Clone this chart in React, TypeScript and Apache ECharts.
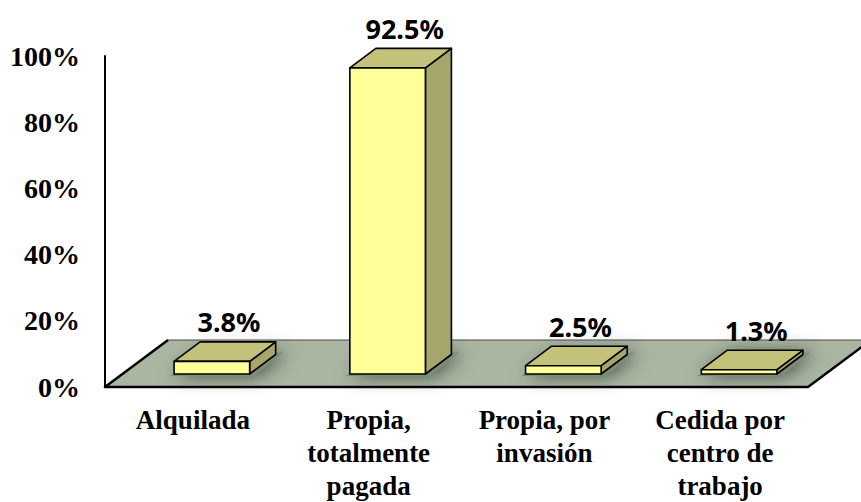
import React, { useEffect, useRef } from "react";
import * as echarts from "echarts";

const categories = [
  "Alquilada",
  "Propia,\ntotalmente\npagada",
  "Propia, por\ninvasión",
  "Cedida por\ncentro de\ntrabajo",
];
const values = [3.8, 92.5, 2.5, 1.3];
const yTicks = { min: 0, max: 100, interval: 20 };

export default function App() {
  const ref = useRef<HTMLDivElement>(null);
  useEffect(() => {
    if (!ref.current) return;
    const chart = echarts.init(ref.current, undefined, { renderer: "svg" });
    const floorDX = 63;
    const floorDY = -47;
    const option: any = {
      animation: false,
      backgroundColor: "#ffffff",
      grid: { left: 105, top: 56, width: 703, height: 335, containLabel: false },
      xAxis: {
        type: "category",
        data: categories,
        axisLine: { show: false },
        axisTick: { show: false },
        splitLine: { show: false },
        axisLabel: {
          interval: 0,
          margin: 16,
          color: "#000",
          fontFamily: "Liberation Serif",
          fontWeight: "bold",
          fontSize: 27,
          lineHeight: 33,
        },
      },
      yAxis: {
        type: "value",
        min: yTicks.min,
        max: yTicks.max,
        interval: yTicks.interval,
        axisLine: { show: true, lineStyle: { color: "#000", width: 2 } },
        axisTick: { show: false },
        splitLine: { show: false },
        axisLabel: {
          formatter: "{value}%",
          margin: 25,
          color: "#000",
          fontFamily: "Liberation Serif",
          fontWeight: "bold",
          fontSize: 28,
        },
      },
      series: [
        {
          type: "custom",
          clip: false,
          silent: true,
          data: [0],
          z: 1,
          renderItem: (params: any) => {
            const cs = params.coordSys;
            const x = cs.x, w = cs.width, yb = cs.y + cs.height;
            const FL = [x, yb];
            const FR = [x + w, yb];
            const BR = [x + w + floorDX, yb + floorDY];
            const BL = [x + floorDX, yb + floorDY];
            return {
              type: "group",
              children: [
                {
                  type: "polygon",
                  shape: { points: [FL, FR, BR, BL] },
                  style: { fill: "#AAB5A2", stroke: "none" },
                },
                {
                  type: "line",
                  shape: { x1: BL[0], y1: BL[1], x2: BR[0], y2: BR[1] },
                  style: { stroke: "#4a4a4a", lineWidth: 1 },
                },
                {
                  type: "polyline",
                  shape: { points: [BL, FL, FR, BR] },
                  style: { stroke: "#000", lineWidth: 2.5, fill: "none", lineJoin: "round" },
                },
              ],
            };
          },
        },
        {
          type: "custom",
          clip: false,
          z: 3,
          data: values.map((v, i) => [i, v]),
          renderItem: (params: any, api: any) => {
            const idx = api.value(0);
            const val = api.value(1);
            const base = api.coord([idx, 0]);
            const top = api.coord([idx, val]);
            const bw = api.size([1, 0])[0] * 0.43;
            const ox = 19, oy = -13;
            const dx = 26, dy = -19.5;
            const x0 = base[0] - bw / 2 + ox;
            const x1 = x0 + bw;
            const yb = base[1] + oy;
            const yt = top[1] + oy;
            const stroke = { stroke: "#000", lineWidth: 1.6, lineJoin: "round" };
            return {
              type: "group",
              children: [
                {
                  type: "polygon",
                  shape: {
                    points: [
                      [x0 - 4, yb + 2],
                      [x1 + 4, yb + 2],
                      [x1 + dx + 8, yb + dy - 2],
                      [x0 + dx, yb + dy - 2],
                    ],
                  },
                  style: {
                    fill: "#7f8a78",
                    shadowBlur: 18,
                    shadowColor: "rgba(50,60,45,0.85)",
                    shadowOffsetX: 4,
                  },
                },
                {
                  type: "polygon",
                  shape: {
                    points: [
                      [x1, yt],
                      [x1 + dx, yt + dy],
                      [x1 + dx, yb + dy],
                      [x1, yb],
                    ],
                  },
                  style: { fill: "#A6A66A", ...stroke },
                },
                {
                  type: "polygon",
                  shape: {
                    points: [
                      [x0, yt],
                      [x1, yt],
                      [x1 + dx, yt + dy],
                      [x0 + dx, yt + dy],
                    ],
                  },
                  style: { fill: "#C4C27A", ...stroke },
                },
                {
                  type: "rect",
                  shape: { x: x0, y: yt, width: bw, height: yb - yt },
                  style: { fill: "#FFFF99", ...stroke },
                },
                {
                  type: "text",
                  style: {
                    text: val.toFixed(1) + "%",
                    x: x0 + bw / 2 + 17,
                    y: yt + dy - 20,
                    align: "center",
                    verticalAlign: "middle",
                    fill: "#000",
                    fontFamily: "Noto Sans",
                    fontWeight: "bold",
                    fontSize: 27,
                  },
                },
              ],
            };
          },
        },
      ],
    };
    chart.setOption(option);
    return () => chart.dispose();
  }, []);
  return (
    <div
      ref={ref}
      style={{ position: "fixed", left: 0, top: 0, width: 861, height: 502, background: "#fff" }}
    />
  );
}
